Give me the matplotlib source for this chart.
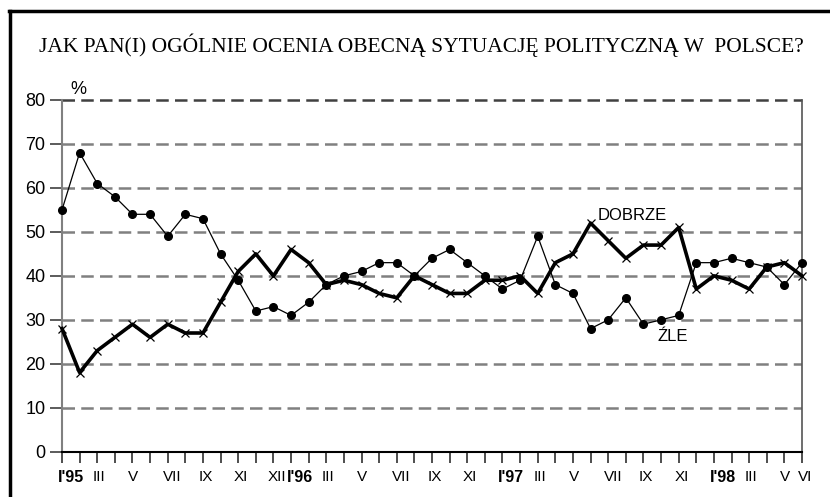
import matplotlib
matplotlib.use("Agg")
import matplotlib.pyplot as plt
from matplotlib.transforms import ScaledTranslation
from matplotlib.lines import Line2D

# ---- data ----
tick_labels = ["I'95", "", "III", "", "V", "", "VII", "", "IX", "", "XI", "", "XII",
               "I'96", "", "III", "", "V", "", "VII", "", "IX", "", "XI", "",
               "I'97", "", "III", "", "V", "", "VII", "", "IX", "", "XI", "",
               "I'98", "", "III", "", "V", "VI"]
dobrze = [28, 18, 23, 26, 29, 26, 29, 27, 27, 34, 41, 45, 40, 46, 43, 38, 39, 38, 36, 35,
          40, 38, 36, 36, 39, 39, 40, 36, 43, 45, 52, 48, 44, 47, 47, 51, 37, 40, 39, 37,
          42, 43, 40]
zle = [55, 68, 61, 58, 54, 54, 49, 54, 53, 45, 39, 32, 33, 31, 34, 38, 40, 41, 43, 43,
       40, 44, 46, 43, 40, 37, 39, 49, 38, 36, 28, 30, 35, 29, 30, 31, 43, 43, 44, 43,
       42, 38, 43]
year_labels = ["I'95", "I'96", "I'97", "I'98"]
y_ticks = [0, 10, 20, 30, 40, 50, 60, 70, 80]

W, H = 830, 497
fig = plt.figure(figsize=(W / 100, H / 100), dpi=100)
fig.patch.set_facecolor("white")

L, R, T, B = 62, 802, 100, 451.7
ax = fig.add_axes([L / W, 1 - B / H, (R - L) / W, (B - T) / H])

x = list(range(len(dobrze)))
ax.plot(x, zle, color="black", lw=0.9, marker="o", ms=5.5, mfc="black", mec="black",
        zorder=4, clip_on=False)
ax.plot(x, dobrze, color="black", lw=2.6, marker="x", ms=6, mew=0.9, zorder=5,
        clip_on=False)

ax.set_xlim(0, len(dobrze) - 1)
ax.set_ylim(0, 80)

# grid
for yv in y_ticks[1:-1]:
    ax.axhline(yv, color="#808080", lw=1.8, ls=(0, (5, 2.5)), zorder=1)
ax.axhline(80, color="#404040", lw=1.8, ls=(0, (5, 2.5)), zorder=1, clip_on=False)

ax.spines["top"].set_visible(False)
ax.spines["left"].set_color("#808080")
ax.spines["left"].set_linewidth(1.5)
ax.spines["right"].set_color("#555555")
ax.spines["right"].set_linewidth(1.2)
ax.spines["bottom"].set_color("black")
ax.spines["bottom"].set_linewidth(1.5)

ax.set_yticks(y_ticks)
ax.set_yticklabels([str(v) for v in y_ticks], fontsize=13, fontfamily="Liberation Sans")
ax.tick_params(axis="y", length=9, width=1.2, color="#404040", pad=3)

ax.set_xticks(x)
ax.set_xticklabels(tick_labels, fontsize=11, fontfamily="Liberation Sans")
ax.tick_params(axis="x", length=8, width=1.2, color="#303030", pad=5)
off = ScaledTranslation(-4.5 / 100, 0, fig.dpi_scale_trans)
off_xii = ScaledTranslation(-5.5 / 100, 0, fig.dpi_scale_trans)
for i, lab in enumerate(ax.get_xticklabels()):
    lab.set_ha("left")
    lab.set_transform(lab.get_transform() + (off_xii if lab.get_text() == "XII" else off))
    if lab.get_text() in year_labels:
        lab.set_fontweight("bold")
        lab.set_fontsize(11.5)
ax.get_xticklines()[0].set_color("#808080")

# annotations
ax.text(0.45, 82.5, "%", fontsize=13, fontfamily="Liberation Sans", ha="left", va="center")
ax.text(30.4, 53.8, "DOBRZE", fontsize=12, fontfamily="Liberation Sans", ha="left", va="center")
ax.text(33.8, 26.2, "ŹLE", fontsize=12, fontfamily="Liberation Sans", ha="left", va="center")

fig.text(421 / W, 1 - 45 / H,
         "JAK PAN(I) OGÓLNIE OCENIA OBECNĄ SYTUACJĘ POLITYCZNĄ W  POLSCE?",
         fontsize=15.5, fontfamily="Liberation Serif", ha="center", va="center")

# outer frame (left and top edges visible)
fig.add_artist(Line2D([10 / W, 10 / W], [0, 1 - 11 / H], transform=fig.transFigure,
                      color="black", lw=2.5))
fig.add_artist(Line2D([9 / W, 1], [1 - 11 / H, 1 - 11 / H], transform=fig.transFigure,
                      color="black", lw=2.5))

fig.savefig("out.png", dpi=100)
